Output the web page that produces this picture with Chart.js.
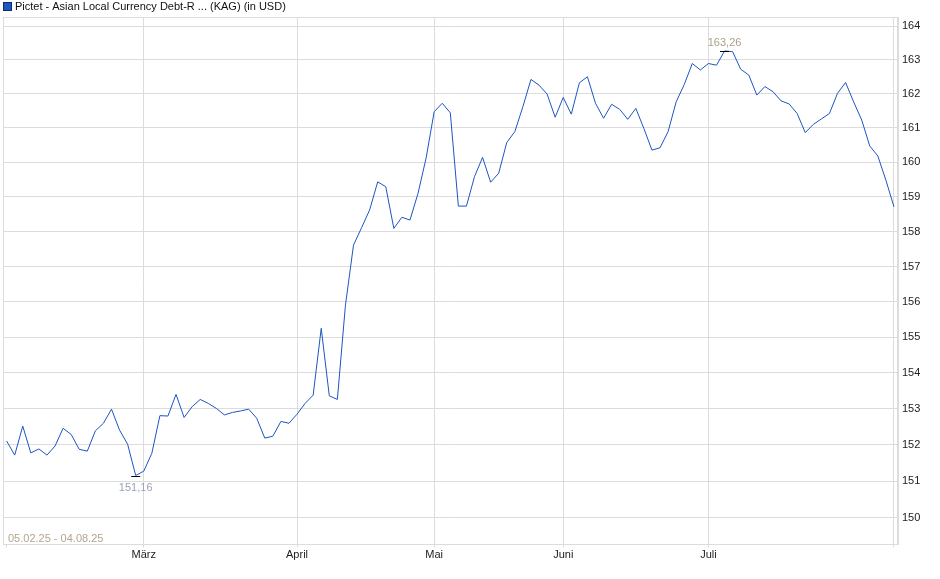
<!DOCTYPE html>
<html>
<head>
<meta charset="utf-8">
<script src="https://cdn.jsdelivr.net/npm/chart.js@4.4.1/dist/chart.umd.min.js"></script>
<style>
  html, body { margin: 0; padding: 0; background: #fff; }
  #wrap { width: 940px; height: 579px; }
</style>
</head>
<body>
<div id="wrap"><canvas id="fundChart"></canvas></div>
<script>
const seriesName = "Pictet - Asian Local Currency Debt-R ... (KAG) (in USD)";
const dateRange = "05.02.25 - 04.08.25";

// one value per trading day
const prices = [
    152.11, 151.72, 152.52, 151.78, 151.89, 151.72, 151.97, 152.46, 152.29, 151.88,
    151.83, 152.39, 152.60, 152.99, 152.41, 152.02, 151.16, 151.28, 151.77, 152.81,
    152.80, 153.40, 152.76, 153.06, 153.26, 153.15, 153.01, 152.83, 152.90, 152.94,
    152.99, 152.74, 152.19, 152.24, 152.65, 152.60, 152.85, 153.15, 153.38, 155.25,
    153.36, 153.26, 155.90, 157.61, 158.11, 158.62, 159.43, 159.29, 158.09, 158.41,
    158.33, 159.10, 160.12, 161.47, 161.72, 161.44, 158.73, 158.73, 159.58, 160.14,
    159.42, 159.68, 160.57, 160.89, 161.62, 162.42, 162.25, 161.99, 161.31, 161.89,
    161.40, 162.32, 162.50, 161.72, 161.28, 161.69, 161.54, 161.25, 161.57, 160.98,
    160.35, 160.42, 160.89, 161.76, 162.27, 162.89, 162.70, 162.89, 162.84, 163.26,
    163.24, 162.72, 162.55, 161.96, 162.21, 162.06, 161.79, 161.70, 161.42, 160.86,
    161.10, 161.26, 161.42, 162.01, 162.33, 161.76, 161.23, 160.47, 160.18, 159.48,
    158.71
];

// first trading day of each month (index into prices)
const monthLabels = ["März", "April", "Mai", "Juni", "Juli"];
const monthStarts = [17, 36, 53, 69, 87];

const yTicks = [150, 151, 152, 153, 154, 155, 156, 157, 158, 159, 160, 161, 162, 163, 164];

const lineColor = "#1c56c0";
const gridColor = "#dcdcdc";
const fontFamily = "'Liberation Sans', Arial, sans-serif";

const lastIndex = prices.length - 1;
const minIndex = prices.indexOf(Math.min(...prices));
const maxIndex = prices.indexOf(Math.max(...prices));

function fmt(v) {
    return v.toFixed(2).replace(".", ",");
}

// frame round the plot area (left and top sides, bottom/right come from the axes)
const framePlugin = {
    id: "frame",
    beforeDatasetsDraw(chart) {
        const a = chart.chartArea;
        const ctx = chart.ctx;
        ctx.save();
        ctx.strokeStyle = gridColor;
        ctx.lineWidth = 1;
        ctx.strokeRect(Math.round(a.left) + 0.5, Math.round(a.top) + 0.5,
            Math.round(a.right - a.left) - 1, Math.round(a.bottom - a.top) - 1);
        ctx.restore();
    }
};

// legend, date range and min / max markers
const notesPlugin = {
    id: "notes",
    afterDatasetsDraw(chart) {
        const ctx = chart.ctx;
        const xs = chart.scales.x;
        const ys = chart.scales.y;
        ctx.save();
        ctx.font = "11px " + fontFamily;
        ctx.textBaseline = "middle";

        // legend
        ctx.fillStyle = lineColor;
        ctx.fillRect(3, 2, 9, 9);
        ctx.strokeStyle = "#0d2c6b";
        ctx.strokeRect(3.5, 2.5, 8, 8);
        ctx.fillStyle = "#111";
        ctx.textAlign = "left";
        ctx.fillText(seriesName, 15, 7);

        // period
        ctx.fillStyle = "#b3a58e";
        ctx.fillText(dateRange, 8, 539);

        // min / max
        ctx.strokeStyle = "#000";
        ctx.lineWidth = 1;
        ctx.textAlign = "center";
        [[minIndex, 11, "#9aa3b8"], [maxIndex, -9, "#ab9f8a"]].forEach(function(m) {
            const px = xs.getPixelForValue(m[0]);
            const py = Math.round(ys.getPixelForValue(prices[m[0]])) + 0.5;
            ctx.beginPath();
            ctx.moveTo(px - 4.5, py);
            ctx.lineTo(px + 4.5, py);
            ctx.stroke();
            ctx.fillStyle = m[2];
            ctx.fillText(fmt(prices[m[0]]), px, py + m[1]);
        });
        ctx.restore();
    }
};

const chartConfig = {
    type: "line",
    data: {
        datasets: [{
            label: seriesName,
            data: prices.map(function(v, i) { return { x: i, y: v }; }),
            borderColor: lineColor,
            borderWidth: 1,
            pointRadius: 0,
            fill: false,
            tension: 0
        }]
    },
    options: {
        responsive: true,
        maintainAspectRatio: false,
        animation: false,
        layout: { padding: { top: 17, left: 3, right: 0, bottom: 0 } },
        plugins: {
            legend: { display: false },
            tooltip: { enabled: false }
        },
        scales: {
            x: {
                type: "linear",
                min: -0.45,
                max: lastIndex + 0.5,
                afterBuildTicks: function(scale) {
                    scale.ticks = [0].concat(monthStarts, [lastIndex]).map(function(v) { return { value: v }; });
                },
                afterFit: function(scale) { scale.height = 34.5; },
                ticks: {
                    autoSkip: false,
                    maxRotation: 0,
                    padding: 1,
                    color: "#222",
                    font: { family: fontFamily, size: 11 },
                    callback: function(v) {
                        const k = monthStarts.indexOf(v);
                        return k >= 0 ? monthLabels[k] : "";
                    }
                },
                grid: {
                    color: function(c) {
                        return (c.tick && c.tick.value === 0) ? "rgba(0,0,0,0)" : gridColor;
                    },
                    tickColor: gridColor,
                    tickLength: 3
                },
                border: { color: gridColor }
            },
            y: {
                type: "logarithmic",
                position: "right",
                bounds: "data",
                min: 149.28,
                max: 164.27,
                afterBuildTicks: function(scale) {
                    scale.ticks = yTicks.map(function(v) { return { value: v }; });
                },
                afterFit: function(scale) { scale.width = 42; },
                ticks: {
                    padding: 4,
                    color: "#222",
                    font: { family: fontFamily, size: 11 },
                    callback: function(v) { return String(v); }
                },
                grid: { color: gridColor, drawTicks: false },
                border: { color: gridColor }
            }
        }
    },
    plugins: [framePlugin, notesPlugin]
};

new Chart(document.getElementById("fundChart"), chartConfig);
</script>
</body>
</html>
